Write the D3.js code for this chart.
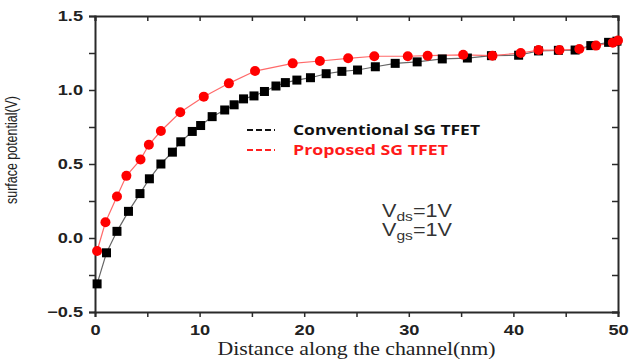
<!DOCTYPE html>
<html>
<head>
<meta charset="utf-8">
<script src="https://cdn.jsdelivr.net/npm/d3@7"></script>
<style>
  body { margin: 0; background: #fff; }
  svg { display: block; }
</style>
</head>
<body>
<div id="chart"></div>
<script>
// data
const convX = [0.2, 1.1, 2.1, 3.2, 4.3, 5.2, 6.3, 7.4, 8.2, 9.3, 10.1, 11.2, 12.4, 13.3, 14.2, 15.2, 16.2, 17.3, 18.2, 19.3,
  20.6, 22.1, 23.6, 25.1, 26.8, 28.7, 30.8, 33.2, 35.6, 37.9, 40.5, 42.4, 44.3, 45.9, 47.4, 49.1, 49.9];
const convY = [-0.31, -0.10, 0.045, 0.18, 0.30, 0.40, 0.50, 0.58, 0.65, 0.72, 0.76, 0.82, 0.865, 0.90, 0.94, 0.96, 0.99, 1.027, 1.05, 1.067,
  1.083, 1.11, 1.126, 1.135, 1.157, 1.18, 1.19, 1.21, 1.216, 1.232, 1.235, 1.264, 1.268, 1.27, 1.30, 1.322, 1.33];
const propX = [0.2, 1.0, 2.1, 3.0, 4.35, 5.15, 6.3, 8.15, 10.4, 12.8, 15.3, 18.9, 21.5, 24.2, 26.7, 29.9, 31.8,
  35.2, 38.0, 40.7, 42.4, 44.4, 46.3, 47.9, 49.5, 50.0];
const propY = [-0.088, 0.106, 0.28, 0.42, 0.53, 0.63, 0.723, 0.85, 0.955, 1.045, 1.128, 1.18, 1.196, 1.214, 1.228, 1.228, 1.232,
  1.238, 1.232, 1.25, 1.27, 1.27, 1.277, 1.30, 1.32, 1.335];
const xTicks = [0, 10, 20, 30, 40, 50];
const yTicks = [-0.5, 0.0, 0.5, 1.0, 1.5];
const seriesNames = ['Conventional SG TFET', 'Proposed SG TFET'];

const W = 629, H = 360;
const margin = { top: 16, right: 11, bottom: 48, left: 95 };

const svg = d3.select('#chart').append('svg')
  .attr('width', W)
  .attr('height', H);

const x = d3.scaleLinear().domain([0, 50]).range([margin.left, W - margin.right]);
const y = d3.scaleLinear().domain([-0.5, 1.5]).range([H - margin.bottom, margin.top]);

const axisColor = '#2a2a2a';
const tickFont = '"Liberation Sans", Arial, sans-serif';

// the original picture is stretched sideways, so widen text to match
function stretch(sel, f) {
  sel.each(function() {
    const w = this.getComputedTextLength();
    if (w > 0) d3.select(this).attr('textLength', w * f).attr('lengthAdjust', 'spacingAndGlyphs');
  });
}

// axes: bottom/left ticks outside, top/right inside
const minorX = d3.range(0, 51, 5);
const minorY = d3.range(-0.5, 1.51, 0.25);

const gB = svg.append('g').attr('transform', `translate(0,${y(-0.5)})`)
  .call(d3.axisBottom(x).tickValues(minorX).tickSize(5).tickFormat(d => (xTicks.includes(d) ? d : '')));
const gT = svg.append('g').attr('transform', `translate(0,${y(1.5)})`)
  .call(d3.axisTop(x).tickValues(minorX).tickSize(-5).tickFormat(''));
const gL = svg.append('g').attr('transform', `translate(${x(0)},0)`)
  .call(d3.axisLeft(y).tickValues(minorY).tickSize(6)
    .tickFormat(d => (yTicks.some(t => Math.abs(t - d) < 1e-6) ? d3.format('.1f')(d) : '')));
const gR = svg.append('g').attr('transform', `translate(${x(50)},0)`)
  .call(d3.axisRight(y).tickValues(minorY).tickSize(-6).tickFormat(''));

[gB, gT, gL, gR].forEach(g => {
  g.select('.domain').attr('stroke', axisColor).attr('stroke-width', 2);
  g.selectAll('.tick line').attr('stroke', axisColor).attr('stroke-width', 1.5);
  g.selectAll('.tick text')
    .attr('fill', '#222')
    .style('font-family', tickFont)
    .style('font-size', '14px')
    .style('font-weight', 'bold');
});
gB.selectAll('.tick text').attr('y', 10).attr('dy', '0.95em');
gL.selectAll('.tick text').attr('x', -12);
stretch(gB.selectAll('.tick text'), 1.3);
stretch(gL.selectAll('.tick text'), 1.3);

// axis titles
const xTitle = svg.append('text')
  .attr('x', (x(0) + x(50)) / 2)
  .attr('y', 355)
  .attr('text-anchor', 'middle')
  .style('font-family', '"Liberation Serif", "Times New Roman", serif')
  .style('font-size', '18px')
  .attr('fill', '#222')
  .text('Distance along the channel(nm)');
xTitle.attr('textLength', 278).attr('lengthAdjust', 'spacingAndGlyphs');

svg.append('text')
  .attr('transform', `translate(17,150) rotate(-90)`)
  .attr('text-anchor', 'middle')
  .style('font-family', '"Liberation Sans", Arial, sans-serif')
  .style('font-size', '16px')
  .attr('fill', '#222')
  .attr('textLength', 108)
  .attr('lengthAdjust', 'spacingAndGlyphs')
  .text('surface potential(V)');

// series
const conv = convX.map((d, i) => ({ x: d, y: convY[i] }));
const prop = propX.map((d, i) => ({ x: d, y: propY[i] }));
const line = d3.line().x(d => x(d.x)).y(d => y(d.y));

svg.append('path').datum(conv)
  .attr('d', line).attr('fill', 'none')
  .attr('stroke', '#666').attr('stroke-width', 1.2);
svg.append('path').datum(prop)
  .attr('d', line).attr('fill', 'none')
  .attr('stroke', '#ff6a6a').attr('stroke-width', 1.2);

const sq = 9;
svg.append('g').selectAll('rect')
  .data(conv)
  .enter().append('rect')
  .attr('x', d => x(d.x) - sq / 2)
  .attr('y', d => y(d.y) - sq / 2)
  .attr('width', sq)
  .attr('height', sq)
  .attr('fill', '#000');

svg.append('g').selectAll('circle')
  .data(prop)
  .enter().append('circle')
  .attr('cx', d => x(d.x))
  .attr('cy', d => y(d.y))
  .attr('r', 5)
  .attr('fill', '#ff0000');

// legend
const legendColors = ['#111', '#ff2020'];
const legendWidths = [187, 155];
const leg = svg.append('g');
seriesNames.forEach((name, i) => {
  const ly = 130 + i * 20;
  leg.append('line')
    .attr('x1', 247).attr('x2', 275)
    .attr('y1', ly).attr('y2', ly)
    .attr('stroke', legendColors[i])
    .attr('stroke-width', 2)
    .attr('stroke-dasharray', '6,3');
  leg.append('text')
    .attr('x', 293).attr('y', ly + 5)
    .style('font-family', '"Open Sans", "Liberation Sans", sans-serif')
    .style('font-size', '14px')
    .style('font-weight', 'bold')
    .attr('fill', i === 0 ? '#111' : '#ff1a1a')
    .attr('textLength', legendWidths[i])
    .attr('lengthAdjust', 'spacingAndGlyphs')
    .text(name);
});

// annotation
const ann = [['ds', 217], ['gs', 236]];
ann.forEach(([sub, by]) => {
  const t = svg.append('text')
    .attr('x', 382).attr('y', by)
    .style('font-family', '"Liberation Sans", Arial, sans-serif')
    .style('font-size', '18px')
    .attr('fill', '#333');
  t.append('tspan').text('V');
  t.append('tspan').attr('dy', 4).style('font-size', '13px').text(sub);
  t.append('tspan').attr('dy', -4).text('=1V');
  stretch(t, 1.2);
});
</script>
</body>
</html>
